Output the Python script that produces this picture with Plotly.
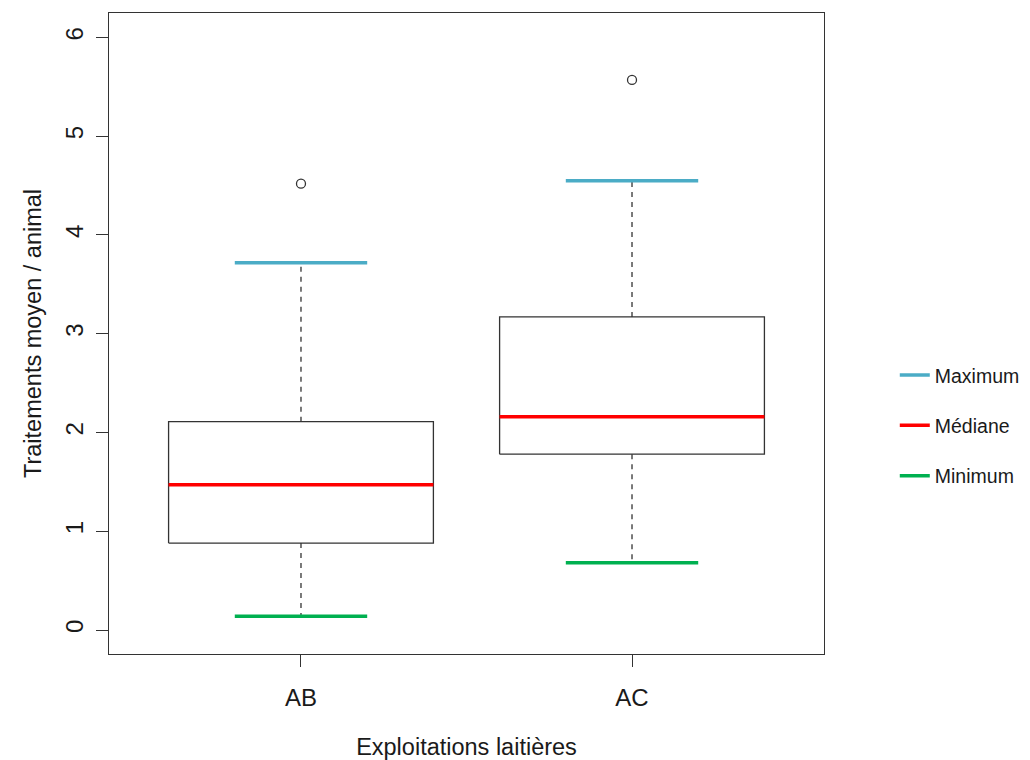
import plotly.graph_objects as go

# ---- data ----
categories = ["AB", "AC"]
q1 = [0.88, 1.78]
median = [1.47, 2.16]
q3 = [2.11, 3.17]
minimum = [0.14, 0.68]
maximum = [3.72, 4.55]
outliers = [4.52, 5.57]
y_ticks = [0, 1, 2, 3, 4, 5, 6]

legend_labels = ["Maximum", "Médiane", "Minimum"]
colors = {"max": "#4BACC6", "med": "#FF0000", "min": "#00B050"}

FONT = "Liberation Sans, Arial, sans-serif"
INK = "#1a1a1a"
positions = [i + 1 for i in range(len(categories))]
BOX_HALF = 0.4
CAP_HALF = 0.2

fig = go.Figure()

# boxes
bx, by = [], []
for p, a, b in zip(positions, q1, q3):
    bx += [p - BOX_HALF, p + BOX_HALF, p + BOX_HALF, p - BOX_HALF, p - BOX_HALF, None]
    by += [a, a, b, b, a, None]
fig.add_trace(go.Scatter(x=bx, y=by, mode="lines", line=dict(color="#333333", width=1.3),
                         showlegend=False, hoverinfo="skip"))

# dashed whiskers
wx, wy = [], []
for p, lo, a, b, hi in zip(positions, minimum, q1, q3, maximum):
    wx += [p, p, None, p, p, None]
    wy += [b, hi, None, a, lo, None]
fig.add_trace(go.Scatter(x=wx, y=wy, mode="lines",
                         line=dict(color="#333333", width=1.3, dash="5px,5px"),
                         showlegend=False, hoverinfo="skip"))

# outliers
fig.add_trace(go.Scatter(x=positions, y=outliers, mode="markers",
                         marker=dict(symbol="circle-open", size=9, color="#333333",
                                     line=dict(width=1.3, color="#333333")),
                         showlegend=False))

def seg(vals, half):
    xs, ys = [], []
    for p, v in zip(positions, vals):
        xs += [p - half, p + half, None]
        ys += [v, v, None]
    return xs, ys

x, y = seg(maximum, CAP_HALF)
fig.add_trace(go.Scatter(x=x, y=y, mode="lines", name=legend_labels[0], legendgroup="a",
                         line=dict(color=colors["max"], width=3.5), legendrank=1))
x, y = seg(median, BOX_HALF)
fig.add_trace(go.Scatter(x=x, y=y, mode="lines", name=legend_labels[1], legendgroup="b",
                         line=dict(color=colors["med"], width=3.5), legendrank=2))
x, y = seg(minimum, CAP_HALF)
fig.add_trace(go.Scatter(x=x, y=y, mode="lines", name=legend_labels[2], legendgroup="c",
                         line=dict(color=colors["min"], width=3.5), legendrank=3))

axis_common = dict(showline=True, linecolor="#333333", linewidth=1.3, mirror=True,
                   ticks="outside", ticklen=12, tickcolor="#333333", tickwidth=1.3,
                   showgrid=False, zeroline=False,
                   tickfont=dict(family=FONT, size=24, color=INK))

fig.update_xaxes(range=[0.42, 2.58], tickvals=positions, ticktext=categories,
                 ticklabelstandoff=10,
                 title=dict(text="Exploitations laitières", standoff=38,
                            font=dict(family=FONT, size=23.5, color=INK)),
                 **axis_common)
fig.update_yaxes(range=[-0.243, 6.248], tickvals=y_ticks, tickangle=-90,
                 ticklabelstandoff=3,
                 title=dict(text="Traitements moyen / animal", standoff=13,
                            font=dict(family=FONT, size=23.5, color=INK)),
                 **axis_common)

# page body has an 8px margin: the figure is sized so that it fills the 1030x760 window
fig.update_layout(
    width=1022, height=752,
    margin=dict(l=101, r=206, t=5, b=106, autoexpand=False),
    paper_bgcolor="white", plot_bgcolor="white",
    font=dict(family=FONT, color=INK),
    legend=dict(x=1.099, xanchor="left", y=0.356, yanchor="middle",
                font=dict(family=FONT, size=19.5, color=INK),
                tracegroupgap=22, bgcolor="rgba(0,0,0,0)"),
    showlegend=True,
)

fig.write_html("out.html")
